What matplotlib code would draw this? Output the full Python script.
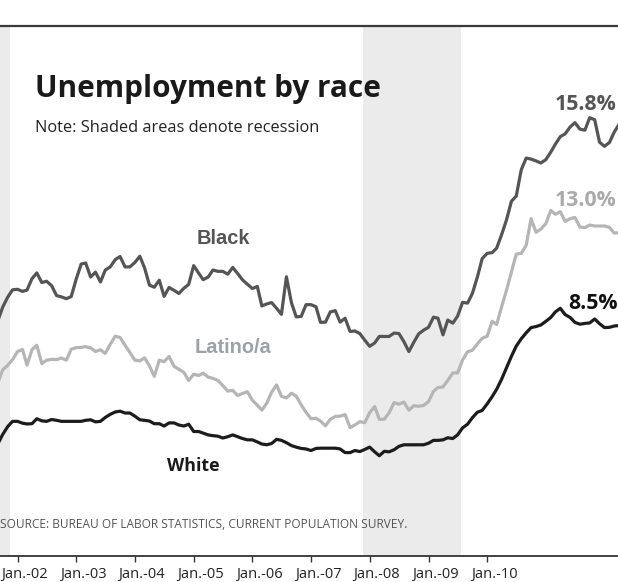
import matplotlib
matplotlib.use('Agg')
import matplotlib.pyplot as plt
import matplotlib.transforms as mtransforms
import pandas as pd

# monthly unemployment rate (%), first month Sep 2001
start_month = '2001-09-01'
black = [9.04, 9.56, 9.94, 10.22, 10.24, 10.16, 10.21, 10.65, 10.87, 10.50,
         10.55, 10.38, 10.00, 9.95, 9.88, 9.96, 10.63, 11.21, 11.25, 10.71,
         10.90, 10.52, 10.98, 11.10, 11.38, 11.50, 11.10, 11.10, 11.27, 11.51,
         11.07, 10.40, 10.32, 10.59, 9.97, 10.31, 10.20, 10.08, 10.28, 10.43,
         11.15, 10.86, 10.61, 10.71, 10.98, 10.93, 10.93, 10.82, 11.08, 10.85,
         10.60, 10.44, 10.27, 10.35, 9.60, 9.68, 9.73, 9.51, 9.28, 10.72,
         9.73, 9.18, 9.20, 9.65, 9.65, 9.57, 8.97, 8.98, 9.37, 9.42,
         8.98, 9.13, 8.62, 8.64, 8.54, 8.29, 8.05, 8.18, 8.43, 8.43,
         8.43, 8.56, 8.54, 8.23, 7.85, 8.20, 8.53, 8.67, 8.78, 9.17,
         9.13, 8.49, 9.06, 8.94, 9.21, 9.74, 9.71, 10.08, 10.71, 11.42,
         11.62, 11.65, 11.82, 12.34, 12.90, 13.62, 13.82, 14.83, 15.28, 15.24,
         15.17, 15.09, 15.22, 15.51, 15.81, 16.10, 16.21, 16.47, 16.64, 16.39,
         16.35, 16.83, 16.75, 15.89, 15.73, 15.88, 16.27, 16.58]
latino = [6.65, 7.15, 7.32, 7.54, 7.85, 7.93, 7.33, 7.92, 8.09, 7.39,
          7.52, 7.55, 7.54, 7.60, 7.52, 7.94, 8.00, 8.01, 8.04, 7.99,
          7.85, 7.92, 7.78, 8.13, 8.44, 8.39, 8.09, 7.82, 7.52, 7.49,
          7.61, 7.30, 6.90, 7.52, 7.46, 7.66, 7.28, 7.17, 7.05, 6.74,
          6.98, 6.93, 7.02, 6.87, 6.82, 6.74, 6.55, 6.33, 6.36, 6.16,
          6.24, 6.31, 5.98, 5.79, 5.60, 5.87, 6.29, 6.57, 6.13, 6.07,
          6.25, 6.14, 5.80, 5.52, 5.27, 5.29, 5.18, 5.00, 5.25, 5.36,
          5.37, 5.43, 4.93, 5.03, 5.16, 5.12, 5.50, 5.74, 5.25, 5.25,
          5.50, 5.89, 5.83, 5.91, 5.60, 5.77, 5.75, 5.78, 5.93, 6.32,
          6.47, 6.49, 6.74, 7.03, 7.03, 7.53, 7.84, 7.90, 8.14, 8.36,
          8.44, 9.01, 8.89, 9.57, 10.20, 10.90, 11.59, 11.62, 11.93, 12.95,
          12.43, 12.55, 12.76, 13.27, 13.12, 13.22, 12.85, 12.95, 13.00, 12.63,
          12.61, 12.71, 12.67, 12.67, 12.67, 12.62, 12.40, 12.41]
white = [4.31, 4.67, 4.97, 5.17, 5.17, 5.10, 5.07, 5.08, 5.27, 5.19,
         5.17, 5.24, 5.21, 5.17, 5.17, 5.17, 5.17, 5.17, 5.21, 5.23,
         5.15, 5.17, 5.32, 5.44, 5.53, 5.56, 5.49, 5.49, 5.37, 5.23,
         5.21, 5.18, 5.08, 5.08, 4.99, 5.11, 5.11, 5.03, 4.99, 5.06,
         4.78, 4.78, 4.72, 4.65, 4.62, 4.60, 4.53, 4.58, 4.65, 4.58,
         4.51, 4.46, 4.46, 4.38, 4.30, 4.27, 4.32, 4.48, 4.44, 4.35,
         4.24, 4.18, 4.13, 4.11, 4.05, 4.13, 4.14, 4.14, 4.14, 4.14,
         4.11, 3.97, 3.97, 4.05, 4.01, 4.09, 4.18, 4.00, 3.85, 4.02,
         4.00, 4.08, 4.21, 4.27, 4.27, 4.27, 4.27, 4.27, 4.33, 4.44,
         4.44, 4.46, 4.54, 4.51, 4.65, 4.92, 5.06, 5.31, 5.52, 5.59,
         5.84, 6.12, 6.40, 6.79, 7.22, 7.67, 8.06, 8.34, 8.57, 8.77,
         8.81, 8.87, 9.01, 9.16, 9.37, 9.51, 9.27, 9.16, 8.97, 8.90,
         8.93, 8.95, 9.10, 8.92, 8.77, 8.78, 8.83, 8.85]

recessions = [('2001-03-01', '2001-11-15'), ('2007-11-19', '2009-07-22')]
tick_years = list(range(2002, 2011))
tick_labels = ['Jan.-%02d' % (y % 100) for y in tick_years]
value_labels = ['15.8%', '13.0%', '8.5%']

months = pd.date_range(start_month, periods=len(black), freq='MS')

W, H = 618, 582
fig = plt.figure(figsize=(W / 100, H / 100), dpi=100)
ax = fig.add_axes([0, 26 / H, 1, 530 / H])


def px(x, y):
    # pixel position (from top left) -> figure fraction
    return x / W, 1 - y / H


for s, e in recessions:
    ax.axvspan(pd.Timestamp(s), pd.Timestamp(e), color='#ebebeb', lw=0, zorder=0)

ax.plot(months, latino, color='#b5b5b5', lw=2.3, zorder=2)
ax.plot(months, black, color='#555555', lw=2.3, zorder=3)
ax.plot(months, white, color='#1c1c1c', lw=2.3, zorder=4)

ax.set_xlim(pd.Timestamp('2001-09-14'), pd.Timestamp('2012-03-25'))
ax.set_ylim(0, 20.35)
ax.set_yticks([])

for side in ['left', 'right']:
    ax.spines[side].set_visible(False)
ax.spines['top'].set_color('#3a3a3a')
ax.spines['top'].set_linewidth(1.6)
ax.spines['bottom'].set_color('#333333')
ax.spines['bottom'].set_linewidth(1.3)

ax.set_xticks([pd.Timestamp('%d-01-01' % y) for y in tick_years])
ax.set_xticklabels(tick_labels, fontfamily='Open Sans', fontsize=10.5, color='#222222')
ax.tick_params(axis='x', direction='out', length=4, width=1, color='#333333', pad=4)
offset = mtransforms.ScaledTranslation(7 / 100, 0, fig.dpi_scale_trans)
for lab in ax.get_xticklabels():
    lab.set_transform(lab.get_transform() + offset)

# titles
fig.text(*px(35, 97), 'Unemployment by race', fontfamily='Open Sans', fontweight='bold',
         fontsize=21.4, color='#1a1a1a', va='baseline')
fig.text(*px(35, 132), 'Note: Shaded areas denote recession', fontfamily='Open Sans',
         fontsize=11.8, color='#222222', va='baseline')

# series labels
fig.text(*px(197, 244), 'Black', fontfamily='Liberation Sans', fontweight='bold',
         fontsize=14.4, color='#555555', va='baseline')
fig.text(*px(195, 352.7), 'Latino/a', fontfamily='Liberation Sans', fontweight='bold',
         fontsize=14.4, color='#9ea2a4', va='baseline')
fig.text(*px(167, 470.7), 'White', fontfamily='Open Sans', fontweight='bold',
         fontsize=12.9, color='#1a1a1a', va='baseline')

fig.text(*px(555, 110), value_labels[0], fontfamily='Open Sans', fontweight='bold',
         fontsize=15.3, color='#555555', va='baseline')
fig.text(*px(555, 206), value_labels[1], fontfamily='Open Sans', fontweight='bold',
         fontsize=15.3, color='#aaaaaa', va='baseline')
fig.text(*px(568, 309.3), value_labels[2], fontfamily='Open Sans', fontweight='bold',
         fontsize=15.3, color='#111111', va='baseline')

fig.text(*px(0, 528), 'SOURCE: BUREAU OF LABOR STATISTICS, CURRENT POPULATION SURVEY.',
         fontfamily='Open Sans', fontsize=8.6, color='#555555', va='baseline')

fig.savefig('out.png', dpi=100)
